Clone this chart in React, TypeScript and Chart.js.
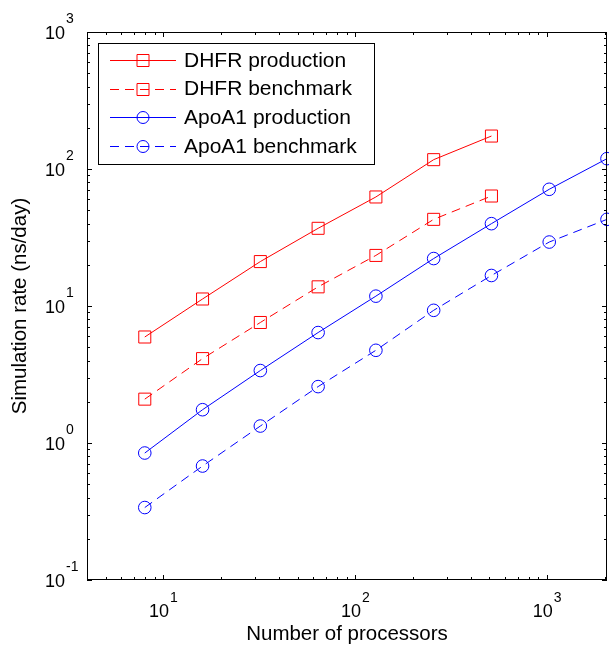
import React, { useEffect, useRef } from 'react';
import { Chart, registerables } from 'chart.js';

Chart.register(...registerables);

const FONT = '"Liberation Sans", Arial, Helvetica, sans-serif';

// ---- data ----
const processors = [8, 16, 32, 64, 128, 256, 512, 1024, 2048];
const dhfrProduction = [5.94, 11.25, 21.1, 36.9, 62.5, 117, 174];
const dhfrBenchmark = [2.09, 4.13, 7.58, 13.8, 23.4, 42.9, 63.5];
const apoa1Production = [0.845, 1.75, 3.38, 6.4, 11.8, 22.2, 39.9, 71.1, 119];
const apoa1Benchmark = [0.338, 0.679, 1.33, 2.58, 4.75, 9.3, 16.7, 29.3, 42.9];
const seriesNames = ['DHFR production', 'DHFR benchmark', 'ApoA1 production', 'ApoA1 benchmark'];
const xTickExponents = [1, 2, 3];
const yTickExponents = [-1, 0, 1, 2, 3];
const xRange = [4, 2048];
const yRange = [0.1, 1000];
const xTitle = 'Number of processors';
const yTitle = 'Simulation rate (ns/day)';

const mk = (vals: number[]) => vals.map((y, i) => ({ x: processors[i], y }));

function minorTicks(lo: number, hi: number) {
  const out: { v: number; major: boolean }[] = [];
  const e0 = Math.floor(Math.log10(lo));
  const e1 = Math.ceil(Math.log10(hi));
  for (let e = e0; e <= e1; e++) {
    for (let m = 1; m <= 9; m++) {
      const v = m * Math.pow(10, e);
      if (v >= lo * 0.9999 && v <= hi * 1.0001) out.push({ v, major: m === 1 });
    }
  }
  return out;
}

const framePlugin = {
  id: 'matlabFrame',
  afterDatasetsDraw(chart: any) {
    const { ctx, chartArea: a, scales } = chart;
    const xs = scales.x;
    const ys = scales.y;
    ctx.save();
    // ticks (inward, all four sides)
    ctx.strokeStyle = '#000';
    ctx.lineWidth = 1;
    ctx.beginPath();
    for (const t of minorTicks(xRange[0], xRange[1])) {
      const px = Math.round(xs.getPixelForValue(t.v)) + 0.5;
      const len = t.major ? 5 : 3;
      ctx.moveTo(px, a.bottom);
      ctx.lineTo(px, a.bottom - len);
      ctx.moveTo(px, a.top);
      ctx.lineTo(px, a.top + len);
    }
    for (const t of minorTicks(yRange[0], yRange[1])) {
      const py = Math.round(ys.getPixelForValue(t.v)) + 0.5;
      const len = t.major ? 5 : 3;
      ctx.moveTo(a.left, py);
      ctx.lineTo(a.left + len, py);
      ctx.moveTo(a.right, py);
      ctx.lineTo(a.right - len, py);
    }
    ctx.stroke();
    // box
    ctx.strokeStyle = '#000';
    ctx.strokeRect(Math.round(a.left) + 0.5, Math.round(a.top) + 0.5, Math.round(a.right - a.left) - 1, Math.round(a.bottom - a.top) - 1);

    // tick labels 10^n
    ctx.fillStyle = '#000';
    ctx.textBaseline = 'alphabetic';
    ctx.textAlign = 'left';
    const big = `18px ${FONT}`;
    const small = `14px ${FONT}`;
    for (const e of yTickExponents) {
      const py = ys.getPixelForValue(Math.pow(10, e));
      ctx.font = big;
      ctx.fillText('10', 45, py + 6.5);
      const w = ctx.measureText('10').width;
      ctx.font = small;
      ctx.fillText(String(e), 45 + w + 1, py - 9);
    }
    for (const e of xTickExponents) {
      const px = xs.getPixelForValue(Math.pow(10, e));
      ctx.font = big;
      const w1 = ctx.measureText('10').width;
      ctx.font = small;
      const w2 = ctx.measureText(String(e)).width;
      const x0 = px - (w1 + 1 + w2) / 2;
      ctx.font = big;
      ctx.fillText('10', x0, 617);
      ctx.font = small;
      ctx.fillText(String(e), x0 + w1 + 1, 602);
    }

    // legend
    const L = { x: 98, y: 43, w: 276, h: 121 };
    ctx.fillStyle = '#fff';
    ctx.fillRect(L.x, L.y, L.w, L.h);
    ctx.strokeStyle = '#000';
    ctx.strokeRect(L.x + 0.5, L.y + 0.5, L.w, L.h);
    const rowY = [60, 88.5, 117, 146];
    chart.data.datasets.forEach((ds: any, i: number) => {
      const y = Math.round(rowY[i]) + 0.5;
      ctx.strokeStyle = ds.borderColor;
      ctx.lineWidth = 1;
      ctx.setLineDash(ds.borderDash || []);
      ctx.beginPath();
      ctx.moveTo(110, y);
      ctx.lineTo(176, y);
      ctx.stroke();
      ctx.setLineDash([]);
      ctx.beginPath();
      if (ds.pointStyle === 'rect') {
        ctx.rect(137, y - 6, 12, 12);
      } else {
        ctx.arc(143, y, 6, 0, Math.PI * 2);
      }
      ctx.stroke();
      ctx.fillStyle = '#000';
      ctx.font = `21px ${FONT}`;
      ctx.textBaseline = 'middle';
      ctx.fillText(ds.label, 184, rowY[i] + 1);
    });
    ctx.restore();
  },
};

export default function App() {
  const ref = useRef<HTMLCanvasElement>(null);
  useEffect(() => {
    const canvas = ref.current!;
    const base = {
      borderWidth: 1,
      pointBorderWidth: 1,
      pointBackgroundColor: 'rgba(0,0,0,0)',
      fill: false,
      tension: 0,
      clip: false as any,
    };
    const chart = new Chart(canvas, {
      type: 'line',
      data: {
        datasets: [
          { ...base, label: seriesNames[0], data: mk(dhfrProduction), borderColor: '#ff0000', pointBorderColor: '#ff0000', pointStyle: 'rect', pointRadius: 8.5 },
          { ...base, label: seriesNames[1], data: mk(dhfrBenchmark), borderColor: '#ff0000', pointBorderColor: '#ff0000', pointStyle: 'rect', pointRadius: 8.5, borderDash: [9, 6] },
          { ...base, label: seriesNames[2], data: mk(apoa1Production), borderColor: '#0000ff', pointBorderColor: '#0000ff', pointStyle: 'circle', pointRadius: 6.3 },
          { ...base, label: seriesNames[3], data: mk(apoa1Benchmark), borderColor: '#0000ff', pointBorderColor: '#0000ff', pointStyle: 'circle', pointRadius: 6.3, borderDash: [9, 6] },
        ],
      },
      options: {
        responsive: false,
        animation: false,
        devicePixelRatio: 1,
        layout: { autoPadding: false, padding: { top: 32, right: 2, left: 0, bottom: 0 } },
        plugins: { legend: { display: false }, tooltip: { enabled: false } },
        scales: {
          x: {
            type: 'logarithmic',
            min: xRange[0],
            max: xRange[1],
            position: 'bottom',
            grid: { display: false },
            border: { display: false },
            ticks: { display: false },
            title: { display: true, text: xTitle, color: '#000', font: { family: FONT, size: 20.5 }, padding: { top: 0, bottom: 0 } },
            afterFit: (s: any) => { s.height = 67; },
          },
          y: {
            type: 'logarithmic',
            min: yRange[0],
            max: yRange[1],
            position: 'left',
            grid: { display: false },
            border: { display: false },
            ticks: { display: false },
            title: { display: true, text: yTitle, color: '#000', font: { family: FONT, size: 20.5 }, padding: { top: 8, bottom: 0 } },
            afterFit: (s: any) => { s.width = 87; },
          },
        },
      } as any,
      plugins: [framePlugin],
    });
    return () => chart.destroy();
  }, []);
  return (
    <div style={{ position: 'fixed', left: 0, top: 0, width: 609, height: 647, background: '#fff' }}>
      <canvas ref={ref} width={609} height={647} style={{ display: 'block', width: 609, height: 647 }} />
    </div>
  );
}
